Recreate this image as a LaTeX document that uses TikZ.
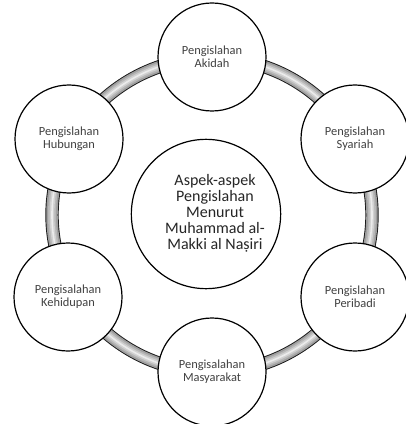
\documentclass[tikz,border=0pt]{standalone}
\usepackage{fontspec}
\setmainfont{Carlito}
\usetikzlibrary{positioning}

\begin{document}
\begin{tikzpicture}[
    x=0.75pt, y=-0.75pt,
    bulatan/.style={
        circle,
        draw=black,
        line width=0.9pt,
        fill=white, % isi putih
        align=center,
        text=black!75,
        font=\fontsize{9.3}{9.8}\selectfont,
        inner sep=0pt,
        minimum size=81pt,
    },
    bulatan_pusat/.style={bulatan, minimum size=112pt}, % bulatan tengah
    teks_pusat/.style={align=center, text=black!85, font=\fontsize{12}{12}\selectfont},
    cincin/.style={line width=#1}
]
\useasboundingbox (0,0) rectangle (405,424);

% Cincin kelabu
\draw[cincin=10pt, black!90] (212,215) ellipse [x radius=160, y radius=157];
\draw[cincin=8.6pt, black!38] (212,215) ellipse [x radius=160, y radius=157];
\draw[cincin=6pt, black!28] (212,215) ellipse [x radius=160, y radius=157];
\draw[cincin=3.5pt, black!18] (212,215) ellipse [x radius=160, y radius=157];
\draw[cincin=1.2pt, black!8] (212,215) ellipse [x radius=160, y radius=157];

% Nodus
\node[bulatan_pusat] (aspek) at (206,214) {};
\node[teks_pusat] (aspekteks) at (215,213) {Aspek-aspek\\Pengislahan\\Menurut\\Muhammad al-\\Makki al Naṣiri};

\node[bulatan] (akidah) at (212,57) {Pengislahan\\Akidah};
\node[bulatan] (syariah) at (355,139) {Pengislahan\\Syariah};
\node[bulatan] (peribadi) at (355,297) {Pengislahan\\Peribadi};
\node[bulatan] (masyarakat) at (212,372) {Pengisalahan\\Masyarakat};
\node[bulatan] (kehidupan) at (68,297) {Pengisalahan\\Kehidupan};
\node[bulatan] (hubungan) at (69,139) {Pengislahan\\Hubungan};

\end{tikzpicture}
\end{document}
